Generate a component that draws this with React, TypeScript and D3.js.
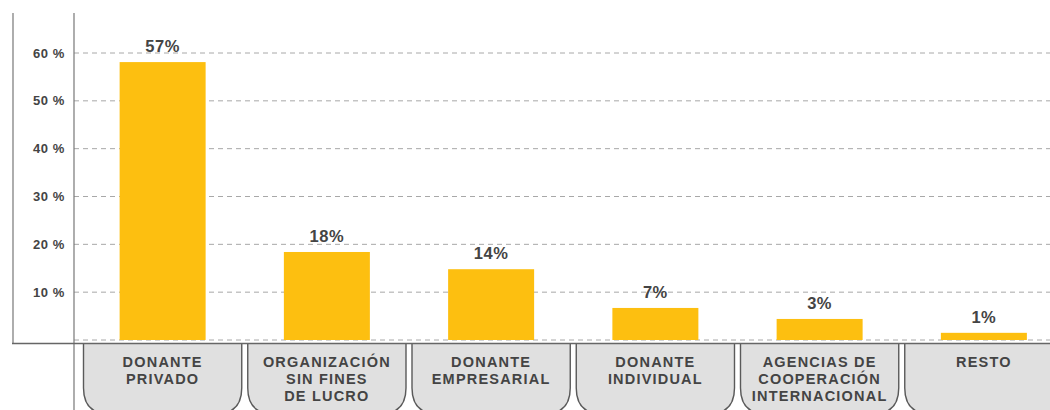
import React from "react";
import * as d3 from "d3";

const categories: string[][] = [
  ["DONANTE", "PRIVADO"],
  ["ORGANIZACIÓN", "SIN FINES", "DE LUCRO"],
  ["DONANTE", "EMPRESARIAL"],
  ["DONANTE", "INDIVIDUAL"],
  ["AGENCIAS DE", "COOPERACIÓN", "INTERNACIONAL"],
  ["RESTO"],
];
const barValues: number[] = [58.1, 18.4, 14.8, 6.7, 4.4, 1.5];
const barLabels: string[] = ["57%", "18%", "14%", "7%", "3%", "1%"];
const yTicks: number[] = [10, 20, 30, 40, 50, 60];

const W = 1050;
const H = 410;
const BAR = "#FDBF10";
const TEXT = "#444444";

export default function App() {
  const keys = categories.map((c) => c.join(" "));
  const x = d3.scaleBand<string>().domain(keys).range([80.5, 1066]).padding(0);
  const y = d3.scaleLinear().domain([0, 60]).range([340, 53]);
  const barW = 86;
  const boxW = x.bandwidth() - 6;
  const boxTop = 344;
  const boxBottom = 414;
  const r = 26;

  const boxPath = (cx: number) => {
    const l = cx - boxW / 2;
    const rr = cx + boxW / 2;
    return `M${l},${boxTop} L${l},${boxBottom - r} Q${l},${boxBottom} ${l + r},${boxBottom} L${rr - r},${boxBottom} Q${rr},${boxBottom} ${rr},${boxBottom - r} L${rr},${boxTop}`;
  };

  return (
    <svg
      width={W}
      height={H}
      style={{ position: "absolute", left: 0, top: 0, background: "#fff" }}
      fontFamily="'Liberation Sans', Arial, sans-serif"
    >
      {/* gridlines */}
      {[0, ...yTicks].map((t) => (
        <line
          key={"g" + t}
          x1={74}
          x2={W}
          y1={y(t)}
          y2={y(t)}
          stroke="#a8a8a8"
          strokeWidth={1}
          strokeDasharray="5,4"
        />
      ))}
      {/* y labels */}
      {yTicks.map((t) => (
        <text
          key={"t" + t}
          x={65}
          y={y(t)}
          dy="0.35em"
          textAnchor="end"
          fontSize={13}
          fontWeight="bold"
          fill={TEXT}
          letterSpacing={0.6}
        >
          {`${t} %`}
        </text>
      ))}
      {/* bars */}
      {keys.map((k, i) => {
        const cx = (x(k) as number) + x.bandwidth() / 2;
        return (
          <g key={"b" + k}>
            <rect x={cx - barW / 2} y={y(barValues[i])} width={barW} height={y(0) - y(barValues[i])} fill={BAR} />
            <text
              x={cx}
              y={y(barValues[i]) - 10}
              textAnchor="middle"
              fontSize={16.5}
              fontWeight="bold"
              fill={TEXT}
              letterSpacing={0.5}
            >
              {barLabels[i]}
            </text>
          </g>
        );
      })}
      {/* category boxes */}
      {keys.map((k, i) => {
        const cx = (x(k) as number) + x.bandwidth() / 2;
        return (
          <g key={"c" + k}>
            <path d={boxPath(cx)} fill="#e0e0e0" stroke="#5a5a5a" strokeWidth={1.4} />
            {categories[i].map((line, j) => (
              <text
                key={j}
                x={cx}
                y={367 + j * 17}
                textAnchor="middle"
                fontFamily="'Liberation Sans Narrow', 'Liberation Sans', Arial, sans-serif"
                fontSize={14.5}
                fontWeight="bold"
                fill={TEXT}
                letterSpacing={1.2}
              >
                {line}
              </text>
            ))}
          </g>
        );
      })}
      {/* frame lines */}
      <line x1={13} x2={13} y1={13} y2={344} stroke="#777" strokeWidth={1.2} />
      <line x1={74} x2={74} y1={13} y2={H} stroke="#777" strokeWidth={1.2} />
      <line x1={12} x2={W} y1={343.5} y2={343.5} stroke="#666" strokeWidth={1.5} />
    </svg>
  );
}
